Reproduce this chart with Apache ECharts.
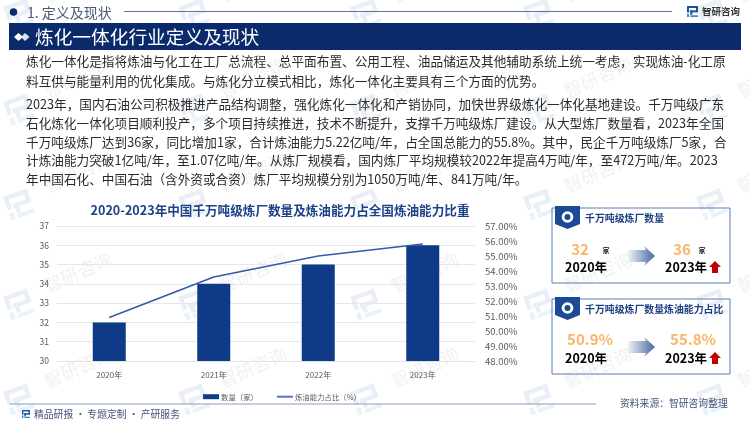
<!DOCTYPE html>
<html><head><meta charset="utf-8">
<style>html,body{margin:0;padding:0;background:#fff}#c{width:750px;height:422px}</style>
<script src="https://cdn.jsdelivr.net/npm/echarts@6/dist/echarts.min.js"></script>
</head><body><div id="c"></div>
<script>
const categories = ['2020年','2021年','2022年','2023年'];
const plantCount = [32,34,35,36];
const capacityShare = [50.9,53.6,55.0,55.8];
const chartTitle = '2020-2023年中国千万吨级炼厂数量及炼油能力占全国炼油能力比重';
const seriesNames = ['数量（家）','炼油能力占比（%）'];
const bodyLines = [
 '炼化一体化是指将炼油与化工在工厂总流程、总平面布置、公用工程、油品储运及其他辅助系统上统一考虑，实现炼油-化工原',
 '料互供与能量利用的优化集成。与炼化分立模式相比，炼化一体化主要具有三个方面的优势。',
 '2023年，国内石油公司积极推进产品结构调整，强化炼化一体化和产销协同，加快世界级炼化一体化基地建设。千万吨级广东',
 '石化炼化一体化项目顺利投产，多个项目持续推进，技术不断提升，支撑千万吨级炼厂建设。从大型炼厂数量看，2023年全国',
 '千万吨级炼厂达到36家，同比增加1家，合计炼油能力5.22亿吨/年，占全国总能力的55.8%。其中，民企千万吨级炼厂5家，合',
 '计炼油能力突破1亿吨/年，至1.07亿吨/年。从炼厂规模看，国内炼厂平均规模较2022年提高4万吨/年，至472万吨/年。2023',
 '年中国石化、中国石油（含外资或合资）炼厂平均规模分别为1050万吨/年、841万吨/年。'
];
const lineY = [61,81,104,123,142,160,179];
const F = '"Noto Sans CJK SC","Noto Sans",sans-serif';
const NAVY = '#0b2a6b';
const g = [];
function T(x,y,text,size,color,weight,align,extra){
  g.push(Object.assign({type:'text',x,y,z:5,silent:true,style:{text,font:(weight||'normal')+' '+size+'px '+F,fill:color,textAlign:align||'left',textVerticalAlign:'middle'}},extra||{}));
}
function R(x,y,w,h,fill,stroke,lw,z){
  g.push({type:'rect',z:z||3,silent:true,shape:{x,y,width:w,height:h},style:{fill:fill||'none',stroke:stroke||'none',lineWidth:lw||0}});
}
function L(x1,y1,x2,y2,color,w){
  g.push({type:'line',z:3,silent:true,shape:{x1,y1,x2,y2},style:{stroke:color,lineWidth:w}});
}
function P(points,fill,z){
  g.push({type:'polygon',z:z||4,silent:true,shape:{points},style:{fill}});
}
function logo(x,y,s,c1,c2,rot,z){
  const kids=[[0,0,1,.18],[.82,0,.18,.55],[.25,.4,.75,.18],[0,.18,.18,.4],[.3,.4,.18,.4]].map(r=>({type:'rect',z:z,shape:{x:r[0]*s,y:r[1]*s,width:r[2]*s,height:r[3]*s},style:{fill:c1}}));
  kids.push({type:'rect',z:z,shape:{x:0,y:.7*s,width:.18*s,height:.3*s},style:{fill:c2}});
  kids.push({type:'rect',z:z,shape:{x:.3*s,y:.84*s,width:.7*s,height:.16*s},style:{fill:c2}});
  g.push({type:'group',x,y,rotation:rot||0,silent:true,children:kids});
}
// watermarks
[15,190,362,535,708].forEach(x=>{
  [15,110,205,305,400].forEach(y=>{
    logo(x-12,y-8,25,'#eaeff6','#e8f2fa',.35,-1);
    T(x+30,y-18,'智研咨询',18,'#f0f1f4','normal','left',{rotation:.42,z:-1});
  });
});
// header
g.push({type:'circle',z:3,silent:true,shape:{cx:13.5,cy:12,r:3.8},style:{fill:NAVY}});
T(27,12.5,'1. 定义及现状',14,'#4a5878');
L(124,11.5,672,11.5,'#5f72a6',1);
logo(687,6,11,'#1d4f9c','#2f8fd8',0,5);
T(702,11.5,'智研咨询',9.5,'#333','bold');
R(9,23,732,27,NAVY);
P([[14,37],[18.5,33],[23,37],[18.5,41]],'#fff');
P([[21,37],[25,33],[29.5,37],[25,41]],'#dfe3ee');
T(35,37,'炼化一体化行业定义及现状',18.7,'#fff');
bodyLines.forEach((s,i)=>T(26,lineY[i],s,12.65,'#2b2b2b'));
// footer
L(10,404,596,404,'#8d9cc0',1.2);
logo(22,410,8,'#1d4f9c','#2f8fd8',0,5);
T(34,414.5,'精品研报 · 专题定制 · 产研服务',9.8,'#44517a');
T(620,403,'资料来源：智研咨询整理',9.8,'#44517a');
// cards
function card(top,title,a,aUnit,b,bUnit){
  R(552,top,178,75,null,'#5b7db8',1,2);
  P([[555,top-2],[580,top-2],[580,top+16],[567.5,top+21],[555,top+16]],'#1c4a94');
  g.push({type:'circle',z:5,silent:true,shape:{cx:567.5,cy:top+9,r:5.8},style:{fill:'#fff'}});
  g.push({type:'circle',z:5,silent:true,shape:{cx:567.5,cy:top+9,r:3},style:{fill:'#1c4a94'}});
  T(585,top+10.5,title,9.9,'#1c3f80','bold');
  const numY=top+41, yrY=top+59;
  if(aUnit){
    T(580,numY,a,15,'#fbb565','bold','center');
    T(606,numY+1,aUnit,7,'#222','bold','center');
    T(682,numY,b,15,'#fbb565','bold','center');
    T(702,numY+1,bUnit,7,'#222','bold','center');
  } else {
    T(590,numY-1,a,15,'#fbb565','bold','center');
    T(693,numY-1,b,15,'#fbb565','bold','center');
  }
  T(586,yrY,'2020年',12.5,'#000','bold','center');
  T(686,yrY,'2023年',12.5,'#000','bold','center');
  const ay=top+48;
  g.push({type:'polygon',z:4,silent:true,shape:{points:[[628,ay-6],[646,ay-6],[644,ay-10],[655,ay],[644,ay+10],[646,ay+6],[628,ay+6]]},
    style:{fill:{type:'linear',x:0,y:0,x2:1,y2:0,colorStops:[{offset:0,color:'#eef2f9'},{offset:1,color:'#46689f'}]}}});
  P([[715,yrY-6],[721,yrY],[718,yrY],[718,yrY+6],[712,yrY+6],[712,yrY],[709,yrY]],'#c00000');
}
card(208,'千万吨级炼厂数量','32','家','36','家');
card(299,'千万吨级炼厂数量炼油能力占比','50.9%','','55.8%','');

const chart=echarts.init(document.getElementById('c'),null,{renderer:'canvas'});
chart.setOption({
  animation:false,
  backgroundColor:'#fff',
  title:{text:chartTitle,left:275,top:198,textAlign:'center',textStyle:{fontFamily:F,fontSize:12.6,fontWeight:'bold',color:'#1b4288',lineHeight:14}},
  grid:{left:57,right:275,top:226,bottom:61},
  legend:{left:198,top:388,itemGap:19,itemWidth:16,itemHeight:5,itemStyle:{},
    textStyle:{fontFamily:F,fontSize:7.4,color:'#595959',padding:[0,0,0,-3]},
    data:[{name:seriesNames[0],icon:'rect'},{name:seriesNames[1],icon:'path://M0 0H16V2H0Z'}]},
  xAxis:{type:'category',data:categories,axisTick:{show:false},
    axisLine:{lineStyle:{color:'#e2e2e2',width:1}},
    axisLabel:{fontFamily:F,fontSize:8,color:'#595959',margin:10}},
  yAxis:[
    {type:'value',min:30,max:37,interval:1,axisLine:{show:false},axisTick:{show:false},
      splitLine:{lineStyle:{color:'#e7e7e7',width:1}},
      axisLabel:{fontFamily:F,fontSize:8.5,color:'#595959',margin:8}},
    {type:'value',min:48,max:57,interval:1,axisLine:{show:false},axisTick:{show:false},splitLine:{show:false},
      axisLabel:{fontFamily:F,fontSize:9.5,color:'#595959',margin:10,formatter:v=>v.toFixed(2)+'%'}}
  ],
  series:[
    {name:seriesNames[0],type:'bar',data:plantCount,barWidth:33,itemStyle:{color:'#0e3a87'},z:2},
    {name:seriesNames[1],type:'line',yAxisIndex:1,data:capacityShare,symbol:'none',smooth:false,lineStyle:{color:'#2f5cab',width:1.6},z:3}
  ],
  graphic:{elements:g}
});
</script></body></html>
